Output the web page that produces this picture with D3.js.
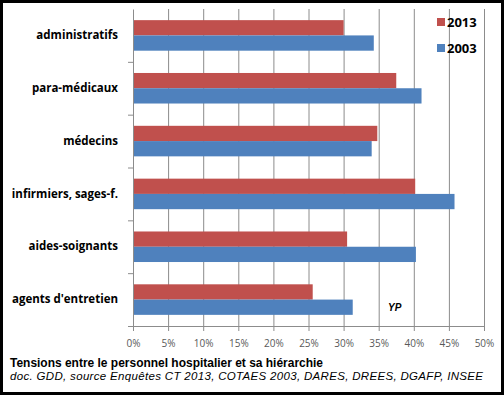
<!DOCTYPE html>
<html>
<head>
<meta charset="utf-8">
<script src="https://cdn.jsdelivr.net/npm/d3@7"></script>
<style>
  body { margin: 0; background: #fff; }
</style>
</head>
<body>
<div id="chart"></div>
<script>
// data
const categories = ["administratifs", "para-médicaux", "médecins", "infirmiers, sages-f.", "aides-soignants", "agents d'entretien"];
const series = ["2013", "2003"];
const values2013 = [30.0, 37.5, 34.8, 40.2, 30.5, 25.6];
const values2003 = [34.3, 41.1, 34.0, 45.8, 40.3, 31.3];
const xTicks = [0, 5, 10, 15, 20, 25, 30, 35, 40, 45, 50];
const colors = { "2013": "#c0504d", "2003": "#4f81bd" };

const W = 504, H = 395;
const margin = { top: 9, right: 20, bottom: 69, left: 133 };
const width = W - margin.left - margin.right;
const height = H - margin.top - margin.bottom;

const svg = d3.select("#chart").append("svg")
  .attr("width", W)
  .attr("height", H);

// black frame
svg.append("rect")
  .attr("x", 1.5).attr("y", 1.5)
  .attr("width", W - 3).attr("height", H - 3)
  .attr("fill", "#fff")
  .attr("stroke", "#000")
  .attr("stroke-width", 3);

const g = svg.append("g")
  .attr("transform", `translate(${margin.left},${margin.top})`);

const x = d3.scaleLinear().domain([0, 50]).range([0, width]);
const y = d3.scaleBand().domain(categories).range([0, height]).paddingInner(0).paddingOuter(0);
const ySub = d3.scaleBand().domain(series).range([0, y.bandwidth()]).paddingOuter(0.73).paddingInner(0);

// gridlines
g.selectAll(".grid")
  .data(xTicks.slice(1))
  .enter().append("line")
  .attr("x1", d => x(d) + 0.5).attr("x2", d => x(d) + 0.5)
  .attr("y1", 0).attr("y2", height)
  .attr("stroke", "#8c8c8c")
  .attr("stroke-width", 1);

// bars
const rows = categories.map((c, i) => ({ cat: c, vals: [
  { s: "2013", v: values2013[i] },
  { s: "2003", v: values2003[i] }
]}));

const grp = g.selectAll(".cat")
  .data(rows)
  .enter().append("g")
  .attr("transform", d => `translate(0,${y(d.cat)})`);

grp.selectAll("rect")
  .data(d => d.vals)
  .enter().append("rect")
  .attr("x", x(0))
  .attr("y", d => ySub(d.s))
  .attr("width", d => x(d.v) - x(0))
  .attr("height", ySub.bandwidth())
  .attr("fill", d => colors[d.s]);

// x axis
const xAxis = g.append("g")
  .attr("transform", `translate(0,${height})`)
  .call(d3.axisBottom(x).tickValues(xTicks).tickFormat(d => d + "%").tickSizeOuter(0).tickSize(5).tickPadding(9));
xAxis.select(".domain").attr("stroke", "#8c8c8c");
xAxis.selectAll(".tick line").attr("stroke", "#8c8c8c");
xAxis.selectAll("text")
  .attr("fill", "#595959")
  .style("font-family", "'Open Sans', sans-serif")
  .style("font-size", "10px");

// y axis
const yAxis = g.append("g")
  .call(d3.axisLeft(y).tickSize(0).tickPadding(15));
yAxis.select(".domain").attr("stroke", "#8c8c8c");
yAxis.selectAll("text")
  .attr("fill", "#000")
  .style("font-family", "'Open Sans', sans-serif")
  .style("font-weight", "bold")
  .style("font-size", "11.5px");

// boundary ticks on y axis
g.selectAll(".ytick")
  .data(categories)
  .enter().append("line")
  .attr("x1", -5).attr("x2", 0)
  .attr("y1", d => y(d) + y.bandwidth() + 0.5)
  .attr("y2", d => y(d) + y.bandwidth() + 0.5)
  .attr("stroke", "#8c8c8c");

// legend
const legend = svg.append("g").attr("transform", "translate(437,18)");
series.forEach((s, i) => {
  const lg = legend.append("g").attr("transform", `translate(0,${i * 26})`);
  lg.append("rect").attr("width", 8).attr("height", 8).attr("fill", colors[s]);
  lg.append("text")
    .attr("x", 10).attr("y", 9)
    .text(s)
    .style("font-family", "'Open Sans', sans-serif")
    .style("font-weight", "bold")
    .style("font-size", "13px");
});

// signature
svg.append("text")
  .attr("x", 388).attr("y", 311)
  .text("YP")
  .style("font-family", "'Liberation Sans', Arial, sans-serif")
  .style("font-weight", "bold")
  .style("font-style", "italic")
  .style("font-size", "10px");

// caption
svg.append("text")
  .attr("x", 10).attr("y", 367)
  .attr("textLength", 313)
  .attr("lengthAdjust", "spacingAndGlyphs")
  .text("Tensions entre le personnel hospitalier et sa hiérarchie")
  .style("font-family", "'Liberation Sans Narrow', 'Liberation Sans', Arial, sans-serif")
  .style("font-weight", "bold")
  .style("font-size", "13px");

svg.append("text")
  .attr("x", 10).attr("y", 380)
  .attr("textLength", 473)
  .attr("lengthAdjust", "spacing")
  .text("doc. GDD, source Enquêtes CT 2013, COTAES 2003, DARES, DREES, DGAFP, INSEE")
  .style("font-family", "'Liberation Sans', Arial, sans-serif")
  .style("font-style", "italic")
  .style("font-size", "11.5px");
</script>
</body>
</html>
